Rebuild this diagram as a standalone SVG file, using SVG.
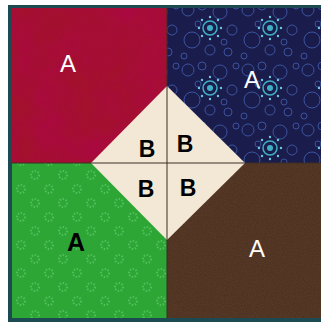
<svg xmlns="http://www.w3.org/2000/svg" width="321" height="322" viewBox="0 0 321 322">
<style>
.lbl{font-family:"Liberation Sans",Arial,sans-serif;text-anchor:middle}
.wa{fill:#ffffff;font-size:24px;font-weight:normal}
.ba{fill:#000000;font-size:25px;font-weight:bold}
.bb{fill:#000000;font-size:23px;font-weight:bold}
.seam{stroke:#3a2e25;stroke-width:1;fill:none}
</style>
<defs>
<filter id="noise" x="0" y="0" width="100%" height="100%">
<feTurbulence type="fractalNoise" baseFrequency="0.9" numOctaves="2" seed="3" result="n"/>
<feColorMatrix type="matrix" values="0 0 0 0 0  0 0 0 0 0  0 0 0 0 0  0 0 0 0.25 0" in="n" result="d"/>
<feComposite in="d" in2="SourceGraphic" operator="in"/>
</filter>
<filter id="blotch" x="0" y="0" width="100%" height="100%">
<feTurbulence type="fractalNoise" baseFrequency="0.03" numOctaves="3" seed="7" result="n"/>
<feColorMatrix type="matrix" values="0 0 0 0 0.45  0 0 0 0 0  0 0 0 0 0.1  0 0 0 -1.2 0.9" in="n" result="d"/>
<feComposite in="d" in2="SourceGraphic" operator="in"/>
</filter>
<pattern id="bubbles" width="60" height="60" patternUnits="userSpaceOnUse">
<rect width="60" height="60" fill="#1a1c4c"/>
<g fill="none" stroke="#4464b8" stroke-width="1" opacity="0.75">
<circle cx="8" cy="10" r="6"/><circle cx="22" cy="6" r="4"/><circle cx="40" cy="12" r="7"/>
<circle cx="52" cy="30" r="5"/><circle cx="12" cy="40" r="8"/><circle cx="30" cy="50" r="5"/>
<circle cx="48" cy="52" r="4"/><circle cx="4" cy="56" r="3"/><circle cx="56" cy="6" r="3"/>
<circle cx="18" cy="24" r="3"/><circle cx="44" cy="42" r="3"/>
</g>
<g fill="none" stroke="#3fb0c4" stroke-width="1.5">
<circle cx="30" cy="28" r="7"/>
</g>
<circle cx="30" cy="28" r="3" fill="#3fb0c4"/>
<g fill="#6ec8dc">
<circle cx="30" cy="17" r="1.2"/><circle cx="41" cy="28" r="1.2"/><circle cx="30" cy="39" r="1.2"/><circle cx="19" cy="28" r="1.2"/>
<circle cx="38" cy="20" r="1.2"/><circle cx="38" cy="36" r="1.2"/><circle cx="22" cy="36" r="1.2"/><circle cx="22" cy="20" r="1.2"/>
</g>
</pattern>
<pattern id="flowers" width="28" height="28" patternUnits="userSpaceOnUse">
<rect width="28" height="28" fill="#2da636"/>
<g fill="none" stroke="#52c05a" stroke-width="2" stroke-dasharray="1.5 1.5">
<circle cx="7" cy="7" r="4"/><circle cx="21" cy="21" r="4"/>
</g>
</pattern>
</defs>
<rect x="0" y="0" width="321" height="322" fill="#ffffff"/>
<rect x="8" y="5" width="313" height="317" fill="#1c4a52"/>
<g id="quadrant-tl">
<rect x="12" y="8" width="155" height="155" fill="#a3112d"/>
<rect x="12" y="8" width="155" height="155" fill="#a3112d" filter="url(#blotch)" opacity="0.6"/>
<text class="lbl wa" x="68" y="72">A</text>
</g>
<g id="quadrant-tr">
<rect x="167" y="8" width="154" height="155" fill="url(#bubbles)"/>
<text class="lbl wa" x="252" y="88">A</text>
</g>
<g id="quadrant-bl">
<rect x="12" y="163" width="155" height="155" fill="url(#flowers)"/>
<text class="lbl ba" x="76" y="251">A</text>
</g>
<g id="quadrant-br">
<rect x="167" y="163" width="154" height="155" fill="#5e3d29"/>
<rect x="167" y="163" width="154" height="155" fill="#5e3d29" filter="url(#noise)"/>
<text class="lbl wa" x="257" y="257">A</text>
</g>
<g id="diamond">
<polygon points="167,86 245,163 167,240 91,163" fill="#f3e8d5"/>
<text class="lbl bb" x="147" y="157">B</text>
<text class="lbl bb" x="185" y="152">B</text>
<text class="lbl bb" x="146" y="197">B</text>
<text class="lbl bb" x="188" y="196">B</text>
</g>
<g id="connectors">
<line class="seam" x1="167" y1="8" x2="167" y2="318"/>
<line class="seam" x1="12" y1="163" x2="321" y2="163"/>
</g>
</svg>
